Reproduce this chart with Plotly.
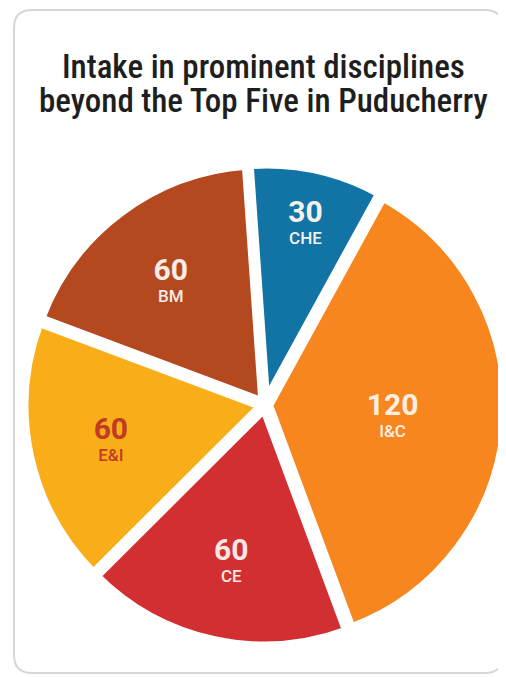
import plotly.graph_objects as go

labels = ["CHE", "I&C", "CE", "E&I", "BM"]
values = [30, 120, 60, 60, 60]
colors = ["#1274a4", "#f7861f", "#d12f31", "#f9ae19", "#b4481f"]
text_colors = ["#f4f0ea", "#fbefe2", "#f8e8e4", "#c23a26", "#f8ece6"]
title_lines = ["Intake in prominent disciplines", "beyond the Top Five in Puducherry"]

W, H = 498, 669  # page body margin of 8px offsets the figure

def px(x):
    return x / W

def py(y):
    return 1 - y / H

fig = go.Figure(go.Pie(
    labels=labels,
    values=values,
    sort=False,
    direction="clockwise",
    rotation=-4,
    pull=0.015,
    marker=dict(colors=colors, line=dict(color="white", width=9)),
    texttemplate="<span style='font-size:30px;font-weight:700'>%{value}</span><br>%{label}",
    textposition="inside",
    insidetextorientation="horizontal",
    insidetextfont=dict(family="Roboto", size=17, weight=500, color=text_colors),
    hoverinfo="label+value",
    showlegend=False,
    domain=dict(x=[px(16), 1.0], y=[31 / H, 513 / H]),
))

r = 18
x0, x1, y0, y1 = 6, 495, 2, 665
card = (f"M {px(x0)},{py(y1 - r)} L {px(x0)},{py(y0 + r)} Q {px(x0)},{py(y0)} {px(x0 + r)},{py(y0)} "
        f"L {px(x1 - r)},{py(y0)} Q {px(x1)},{py(y0)} {px(x1)},{py(y0 + r)} "
        f"L {px(x1)},{py(y1 - r)} Q {px(x1)},{py(y1)} {px(x1 - r)},{py(y1)} "
        f"L {px(x0 + r)},{py(y1)} Q {px(x0)},{py(y1)} {px(x0)},{py(y1 - r)} Z")

title_y = [59, 93]
for line, yy in zip(title_lines, title_y):
    fig.add_annotation(
        text=line, xref="paper", yref="paper", x=px(256), y=py(yy),
        xanchor="center", yanchor="middle", showarrow=False,
        font=dict(family="Roboto Condensed", size=33, weight=500, color="#1e1e1e"),
    )

fig.update_layout(
    width=W, height=H,
    margin=dict(l=0, r=0, t=0, b=0),
    paper_bgcolor="white",
    plot_bgcolor="white",
    shapes=[dict(
        type="path", xref="paper", yref="paper", path=card,
        line=dict(color="#d6d6d6", width=2),
        layer="below",
    )],
)

fig.write_html("out.html")
